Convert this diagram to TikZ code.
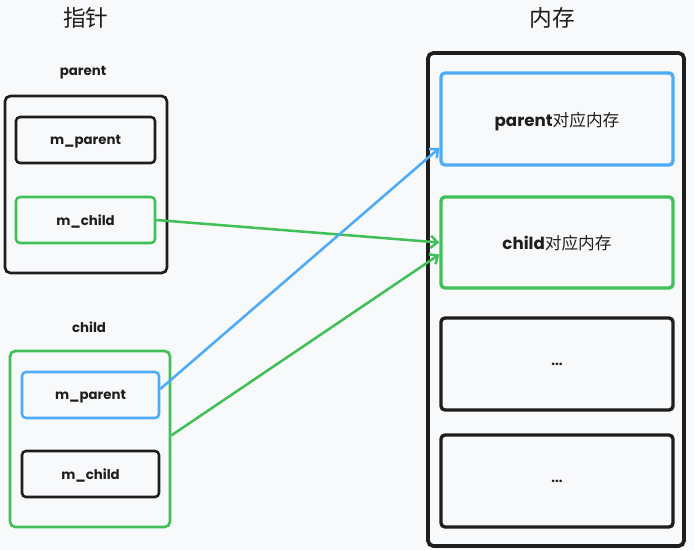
\documentclass[tikz,border=0pt]{standalone}
\usepackage{fontspec}
\setmainfont{Poppins}
\newfontfamily\cjk{Noto Sans CJK SC}
\usetikzlibrary{arrows.meta,calc}
\definecolor{bg}{HTML}{F8F9FB}
\definecolor{ink}{HTML}{1E1E1E}
\definecolor{sblue}{HTML}{4DABF7}
\definecolor{sgreen}{HTML}{40C057}
\tikzset{
  box/.style={draw, rounded corners=3pt, line width=1.9pt, inner sep=0pt, font=\fontsize{10}{12}\selectfont\bfseries, text=ink, text depth=0pt},
  outer/.style={draw=ink, rounded corners=4pt, line width=2pt, inner sep=0pt},
  lab/.style={font=\fontsize{10}{12}\selectfont\bfseries, text=ink},
  title/.style={font=\cjk\fontsize{17}{20}\selectfont, text=ink},
  memtxt/.style={font=\fontsize{12.5}{14}\selectfont\bfseries},
  conn/.style={line width=1.9pt, -{Straight Barb[length=5pt,width=9pt,line width=1.9pt]}},
}
\begin{document}
\begin{tikzpicture}[x=0.75pt,y=-0.75pt]
\fill[bg] (0,0) rectangle (694,550);
\useasboundingbox (0,0) rectangle (694,550);
% titles
\node[title] (t1) at (86,18) {指针};
\node[title] (t2) at (552,18) {内存};
% parent struct
\node[lab] (lp) at (83,73) {parent};
\node[outer, minimum width=162*0.75pt, minimum height=177*0.75pt] (P) at (86,184.5) {};
\node[box, draw=ink, minimum width=139*0.75pt, minimum height=46*0.75pt] (Pmp) at (85.5,140) {m\_parent};
\node[box, draw=sgreen, minimum width=139*0.75pt, minimum height=46*0.75pt] (Pmc) at (85.5,220) {m\_child};
% child struct
\node[lab] (lc) at (89,327) {child};
\node[outer, draw=sgreen, minimum width=160*0.75pt, minimum height=176*0.75pt] (C) at (90,439) {};
\node[box, draw=sblue, minimum width=137*0.75pt, minimum height=46*0.75pt] (Cmp) at (90.5,395) {m\_parent};
\node[box, draw=ink, minimum width=137*0.75pt, minimum height=46*0.75pt] (Cmc) at (90.5,474) {m\_child};
% memory
\node[outer, line width=2.8pt, minimum width=256*0.75pt, minimum height=493*0.75pt] (M) at (556,299.5) {};
\node[box, draw=sblue, line width=2.5pt, minimum width=232*0.75pt, minimum height=92*0.75pt, memtxt] (Mp) at (557,119) {parent{\cjk\mdseries 对应内存}};
\node[box, draw=sgreen, line width=2.5pt, minimum width=232*0.75pt, minimum height=91*0.75pt, memtxt] (Mc) at (557,242.5) {child{\cjk\mdseries 对应内存}};
\node[box, draw=ink, line width=2.5pt, minimum width=232*0.75pt, minimum height=92*0.75pt] (M3) at (557,364) {...};
\node[box, draw=ink, line width=2.5pt, minimum width=232*0.75pt, minimum height=92*0.75pt] (M4) at (557,481) {...};
% connectors
\coordinate (cs) at ($(C.north east)!0.48!(C.south east)$);
\coordinate (bt) at ($(Mp.west)+(0,29)$);
\coordinate (gt) at ($(Mc.west)+(0,12)$);
\draw[conn, sgreen] (Pmc.east) -- (Mc.west);
\draw[conn, sblue] ($(Cmp.east)+(0,-6)$) -- (bt);
\draw[conn, sgreen] (cs) -- (gt);
\end{tikzpicture}
\end{document}
